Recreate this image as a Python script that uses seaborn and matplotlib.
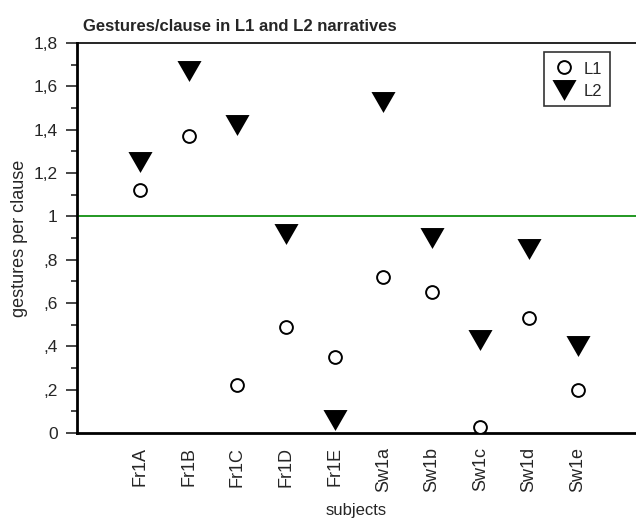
import numpy as np
import pandas as pd
import seaborn as sns
import matplotlib.pyplot as plt
from matplotlib.ticker import MultipleLocator, FixedLocator

subjects = ['Fr1A', 'Fr1B', 'Fr1C', 'Fr1D', 'Fr1E',
            'Sw1a', 'Sw1b', 'Sw1c', 'Sw1d', 'Sw1e']
l1_values = [1.12, 1.37, 0.22, 0.49, 0.35, 0.72, 0.65, 0.03, 0.53, 0.20]
l2_values = [1.25, 1.67, 1.42, 0.92, 0.06, 1.53, 0.90, 0.43, 0.85, 0.40]
y_ticks = [0, 0.2, 0.4, 0.6, 0.8, 1.0, 1.2, 1.4, 1.6, 1.8]
y_tick_labels = ['0', ',2', ',4', ',6', ',8', '1', '1,2', '1,4', '1,6', '1,8']

df = pd.DataFrame({'subject': subjects, 'L1': l1_values, 'L2': l2_values})

sns.set_style('white')
plt.rcParams['font.family'] = ['Liberation Sans', 'DejaVu Sans']

# wide downward triangle, a bit flatter than matplotlib's 'v'
tri = [(-1.15, 1.0), (1.15, 1.0), (0.0, -1.0)]

fig = plt.figure(figsize=(6.36, 5.2), dpi=100)
ax = fig.add_axes([0.121, 0.167, 0.879, 0.75])

sns.scatterplot(data=df, x='subject', y='L1', marker='o', s=85,
                facecolor='white', edgecolor='black', linewidth=1.4,
                label='L1', ax=ax, zorder=3)
sns.scatterplot(data=df, x='subject', y='L2', marker=tri, s=300,
                color='black', edgecolor='black', linewidth=0,
                label='L2', ax=ax, zorder=3)

ax.axhline(1.0, color='#109010', linewidth=1.3, zorder=2)

ax.set_ylim(0, 1.8)
ax.set_xlim(-1.3, 10.2)
ax.yaxis.set_major_locator(FixedLocator(y_ticks))
ax.set_yticklabels(y_tick_labels)
ax.yaxis.set_minor_locator(MultipleLocator(0.1))
ax.tick_params(axis='y', which='major', direction='out', length=8, width=1.2,
               left=True, labelsize=12.5, pad=6)
ax.tick_params(axis='y', which='minor', direction='out', length=4, width=1.2,
               left=True)
ax.tick_params(axis='x', length=0, labelsize=13, rotation=90, pad=10)

for side in ['left', 'top', 'bottom']:
    ax.spines[side].set_visible(True)
    ax.spines[side].set_color('black')
ax.spines['left'].set_linewidth(2.0)
ax.spines['bottom'].set_linewidth(2.0)
ax.spines['top'].set_linewidth(1.2)
ax.spines['right'].set_visible(False)

ax.set_xlabel('subjects', fontsize=12, labelpad=8)
ax.set_ylabel('gestures per clause', fontsize=13, labelpad=4)
ax.set_title('Gestures/clause in L1 and L2 narratives', fontsize=12,
             fontweight='bold', loc='left', x=0.01, pad=9)

leg = ax.legend(loc='upper right', bbox_to_anchor=(0.953, 0.977), borderaxespad=0,
                frameon=True, fancybox=False, edgecolor='black', fontsize=12,
                handletextpad=0.4, borderpad=0.45, labelspacing=0.3,
                handlelength=1.5, handleheight=1.2)
leg.get_frame().set_linewidth(1.2)

fig.savefig('out.png', dpi=100)
